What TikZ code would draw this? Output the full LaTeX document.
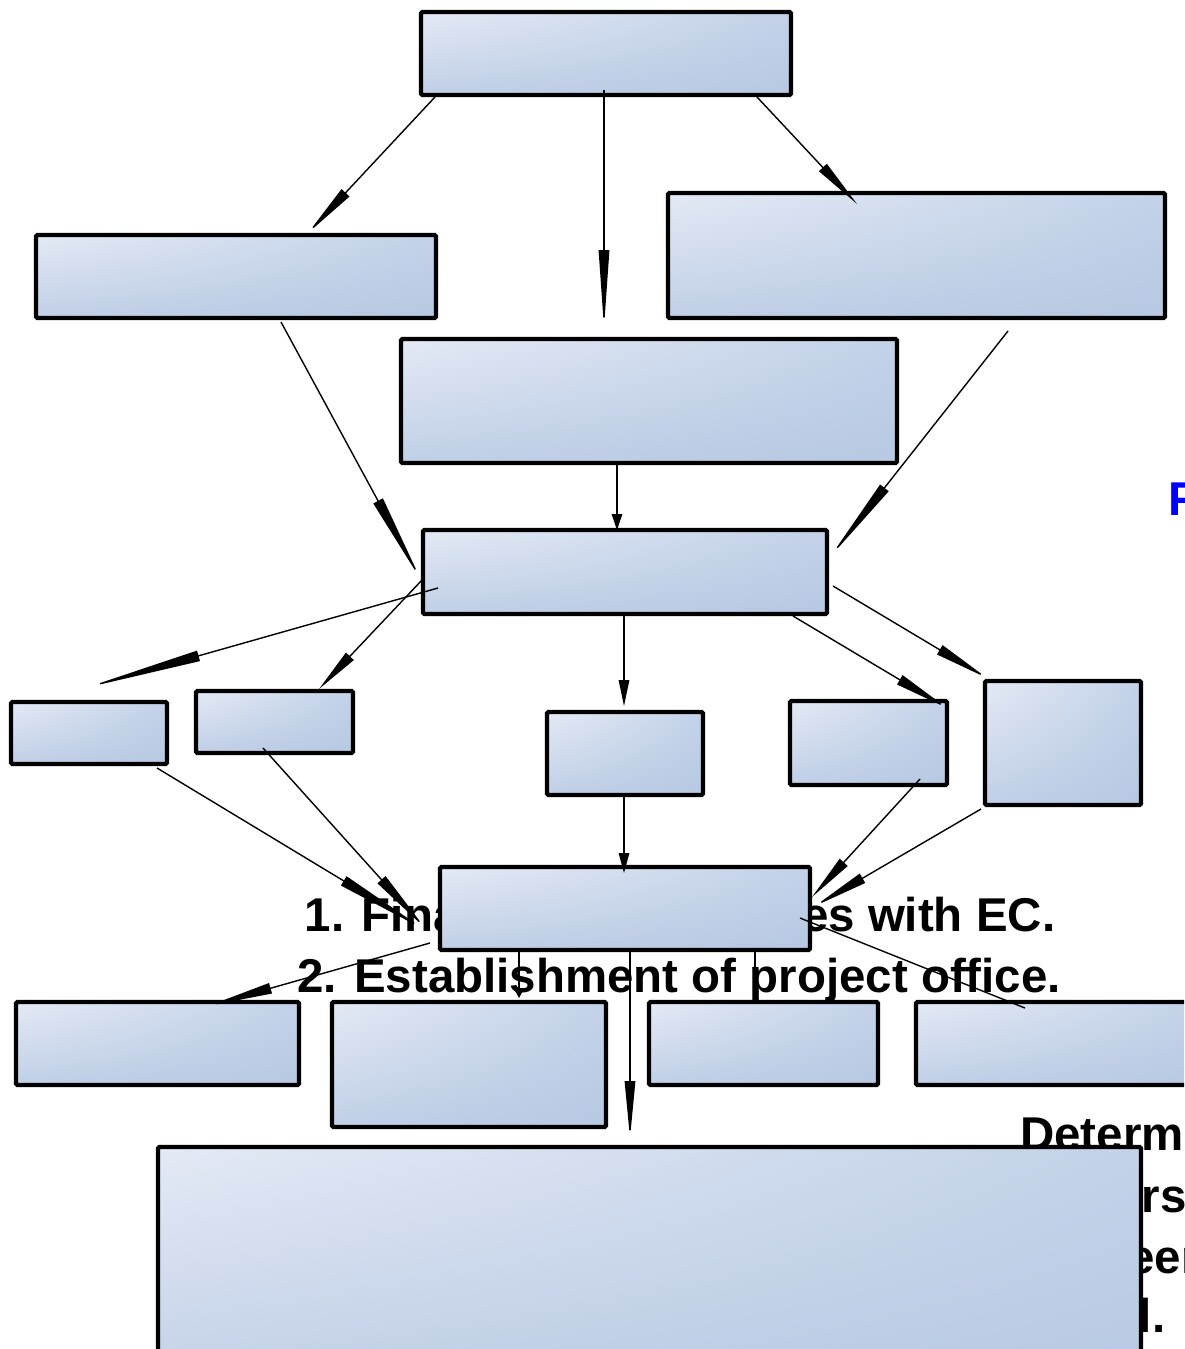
\documentclass[tikz,border=0pt]{standalone}
\usepackage{fontspec}
\setmainfont{Liberation Sans}
\usetikzlibrary{arrows.meta,fit,shadings}
\definecolor{panelA}{HTML}{E4EAF5}
\definecolor{panelB}{HTML}{C3D2E9}
\definecolor{panelC}{HTML}{C0CFE7}
\definecolor{panelD}{HTML}{B7C8E2}
\tikzset{
  panel/.style={draw=black, line width=2.5pt, rounded corners=0.8pt, inner sep=0pt, outer sep=0pt,
    shade, upper left=panelA, upper right=panelB, lower left=panelC, lower right=panelD},
  flow/.style={line width=0.8pt, -{Triangle[length=#1cm, width=2.1mm]}},
  link/.style={line width=0.8pt},
  note/.style={font=\fontsize{27}{33}\selectfont\bfseries, inner sep=0pt}
}
\begin{document}
\begin{tikzpicture}[x=0.02cm, y=-0.02cm]
  \useasboundingbox (0,0) rectangle (1184,1349);
  \clip (0,0) rectangle (1184,1349);

  %%% texts lying under the boxes
  \node[note, anchor=base] (step1) at (680,931) {1. Finalize all formalities with EC.};
  \node[note, anchor=base] (step2) at (679,992) {2. Establishment of project office.};
  \node[note, anchor=base west] (det1) at (1020,1150) {Determination of};
  \node[note, anchor=base west] (det2) at (1020,1212) {powers and roles};
  \node[note, anchor=base west] (det3) at (1020,1273) {between the};
  \node[note, anchor=base west] (det4) at (1020,1332) {portal.};
  \node[note, anchor=base west, text=blue] (fnote) at (1168,515) {F};

  %%% boxes
  \node[panel, fit={(421,12) (791,95)}] (top) {};
  \node[panel, fit={(36,235) (436,318)}] (lft) {};
  \node[panel, fit={(668,193) (1165,318)}] (rgt) {};
  \node[panel, fit={(401,339) (897,463)}] (mid) {};
  \node[panel, fit={(423,530) (827,614)}] (hub) {};

  \node[panel, fit={(11,702) (167,764)}] (bA) {};
  \node[panel, fit={(196,691) (353,753)}] (bB) {};
  \node[panel, fit={(547,712) (703,795)}] (bC) {};
  \node[panel, fit={(790,701) (947,785)}] (bD) {};
  \node[panel, fit={(985,681) (1141,805)}] (bE) {};

  \node[panel, fit={(440,867) (810,950)}] (core) {};

  \node[panel, fit={(16,1002) (299,1085)}] (cA) {};
  \node[panel, fit={(332,1002) (606,1127)}] (cB) {};
  \node[panel, fit={(649,1002) (878,1085)}] (cC) {};
  \node[panel, fit={(916,1002) (1210,1085)}] (cD) {};
  \node[panel, fit={(158,1147) (1141,1400)}] (base) {};

  %%% connectors
  \draw[flow=1.1] ([shift={(14,2)}]top.south west) -- ([shift={(72,-2)}]lft.north);
  \draw[flow=1.56] ([shift={(-2,-5)}]top.south) -- ([shift={(-45,-11)}]mid.north);
  \draw[flow=1.0] ([shift={(-34,2)}]top.south east) -- ([shift={(189,11)}]rgt.north west);

  \draw[flow=1.8] ([shift={(45,4)}]lft.south) -- ([shift={(-2,8)}]hub.west);
  \draw[flow=1.76] ([shift={(91.5,13)}]rgt.south) -- ([shift={(3,-15)}]hub.east);
  \draw[flow=0.32] ([shift={(-32,2)}]mid.south) -- ([shift={(-8,0)}]hub.north);

  \draw[flow=2.36] ([shift={(15,16)}]hub.west) -- ([shift={(-4,-14)}]bA.north);
  \draw[flow=0.9] ([shift={(-1,8)}]hub.west) -- ([shift={(-34,-2)}]bB.north east);
  \draw[flow=0.52] ([shift={(-1,2)}]hub.south) -- ([shift={(-1,-6)}]bC.north);
  \draw[flow=1.1] ([shift={(-34,2)}]hub.south east) -- ([shift={(0,7)}]bD.north east);
  \draw[flow=1.1] ([shift={(6,14)}]hub.east) -- ([shift={(2,-3)}]bE.north west);

  \draw[flow=1.9] ([shift={(-10,4)}]bA.south east) -- ([shift={(-15,21.5)}]core.west);
  \draw[flow=1.3] ([shift={(-11.5,-5)}]bB.south) -- ([shift={(-15,19.5)}]core.west);
  \draw[flow=0.4] ([shift={(-1,2)}]bC.south) -- ([shift={(-1,6)}]core.north);
  \draw[flow=0.94] ([shift={(-27,-6)}]bD.south east) -- ([shift={(2,-11.5)}]core.east);
  \draw[flow=1.1] ([shift={(-4,4)}]bE.south west) -- ([shift={(5,-2.5)}]core.east);

  \draw[flow=1.3] ([shift={(-10,-7)}]core.south west) -- ([shift={(50.5,4)}]cA.north);
  \draw[flow=0.2] ([shift={(79,0)}]core.south west) -- ([shift={(50,-4)}]cB.north);
  \draw[flow=1.14] ([shift={(5,0)}]core.south) -- ([shift={(-19.5,-9)}]base.north);
  \draw[link] ([shift={(-55,0)}]core.south east) -- ([shift={(-8.5,0)}]cC.north);
  \draw[link] ([shift={(-10,9.5)}]core.east) -- ([shift={(109,6)}]cD.north west);
\end{tikzpicture}
\end{document}
